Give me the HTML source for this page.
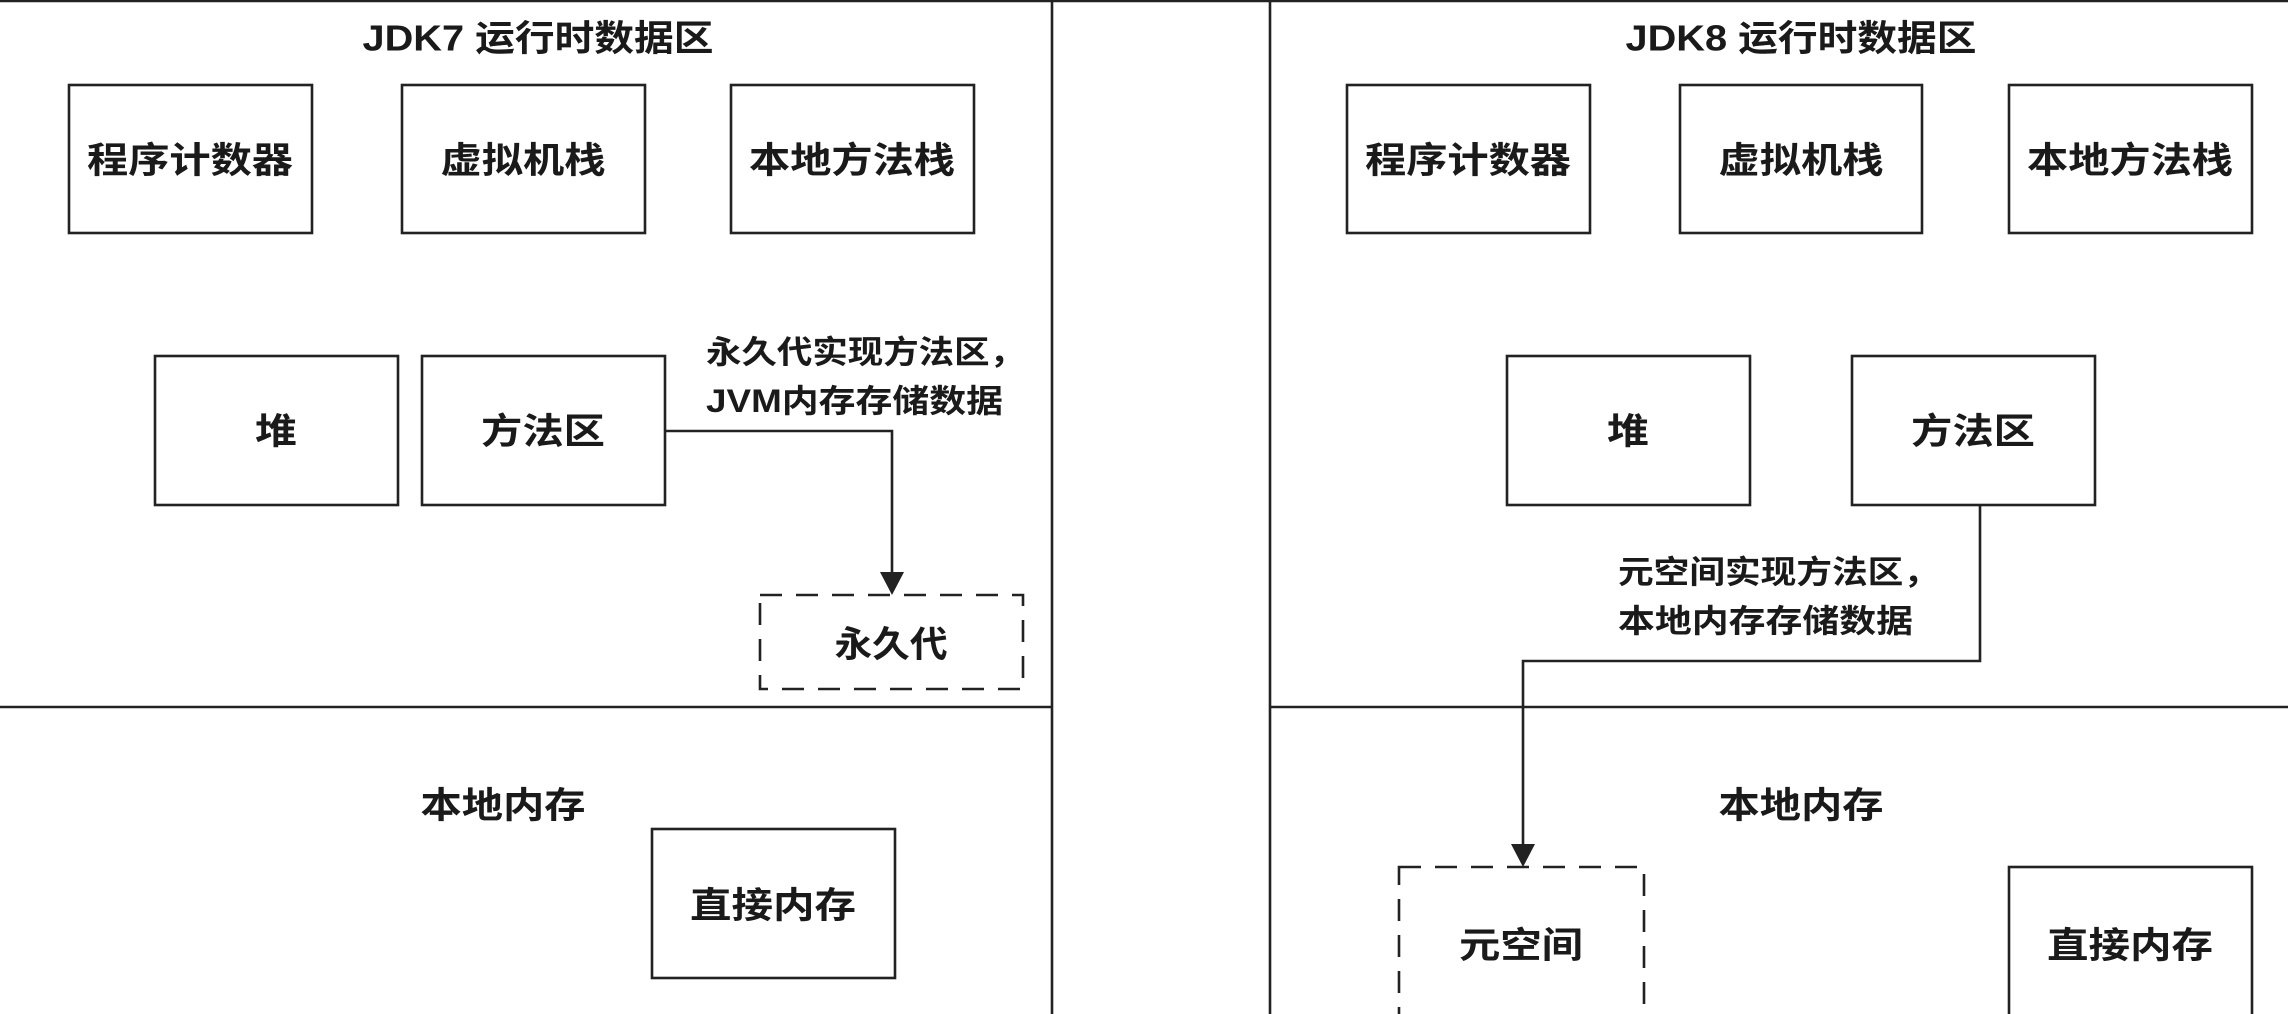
<!DOCTYPE html>
<html><head><meta charset="utf-8"><style>
html,body{margin:0;padding:0;background:#fff;}
svg{display:block;}
text{font-family:"Liberation Sans","Noto Sans CJK SC",sans-serif;fill:#1a1a1a;font-weight:700;}
</style></head><body>
<svg width="2288" height="1014" viewBox="0 0 2288 1014" xmlns="http://www.w3.org/2000/svg">
<g stroke="#222" stroke-width="2.6" fill="none">
<line x1="0" y1="1" x2="2288" y2="1"/>
<line x1="1052" y1="0" x2="1052" y2="1014"/>
<line x1="1270" y1="0" x2="1270" y2="1014"/>
<line x1="0" y1="707" x2="1052" y2="707"/>
<line x1="1270" y1="707" x2="2288" y2="707"/>
<rect x="69" y="85" width="243" height="148"/>
<rect x="402" y="85" width="243" height="148"/>
<rect x="731" y="85" width="243" height="148"/>
<rect x="155" y="356" width="243" height="149"/>
<rect x="422" y="356" width="243" height="149"/>
<rect x="760" y="595" width="263" height="94" stroke-dasharray="22,14"/>
<rect x="652" y="829" width="243" height="149"/>
<polyline points="665,431 892,431 892,580"/>
<rect x="1347" y="85" width="243" height="148"/>
<rect x="1680" y="85" width="242" height="148"/>
<rect x="2009" y="85" width="243" height="148"/>
<rect x="1507" y="356" width="243" height="149"/>
<rect x="1852" y="356" width="243" height="149"/>
<polyline points="1980,505 1980,661 1523,661 1523,852"/>
<rect x="1399" y="867" width="245" height="160" stroke-dasharray="22,14"/>
<rect x="2009" y="867" width="243" height="160"/>
</g>
<polygon points="880,572 904,572 892,595" fill="#222"/>
<polygon points="1511,844 1535,844 1523,867" fill="#222"/>
<g font-size="36" dominant-baseline="central" text-anchor="middle">
<text x="538" y="38" textLength="351" lengthAdjust="spacingAndGlyphs">JDK7 运行时数据区</text>
<text x="190" y="160" textLength="206" lengthAdjust="spacingAndGlyphs">程序计数器</text>
<text x="523" y="160" textLength="165" lengthAdjust="spacingAndGlyphs">虚拟机栈</text>
<text x="852" y="160" textLength="206" lengthAdjust="spacingAndGlyphs">本地方法栈</text>
<text x="276" y="431" textLength="42" lengthAdjust="spacingAndGlyphs">堆</text>
<text x="543" y="431" textLength="124" lengthAdjust="spacingAndGlyphs">方法区</text>
<text x="891" y="644" textLength="113" lengthAdjust="spacingAndGlyphs">永久代</text>
<text x="503" y="805" textLength="165" lengthAdjust="spacingAndGlyphs">本地内存</text>
<text x="773" y="905" textLength="166" lengthAdjust="spacingAndGlyphs">直接内存</text>
<text x="1801" y="38" textLength="351" lengthAdjust="spacingAndGlyphs">JDK8 运行时数据区</text>
<text x="1468" y="160" textLength="206" lengthAdjust="spacingAndGlyphs">程序计数器</text>
<text x="1801" y="160" textLength="165" lengthAdjust="spacingAndGlyphs">虚拟机栈</text>
<text x="2130" y="160" textLength="206" lengthAdjust="spacingAndGlyphs">本地方法栈</text>
<text x="1628" y="431" textLength="42" lengthAdjust="spacingAndGlyphs">堆</text>
<text x="1973" y="431" textLength="124" lengthAdjust="spacingAndGlyphs">方法区</text>
<text x="1801" y="805" textLength="165" lengthAdjust="spacingAndGlyphs">本地内存</text>
<text x="1521" y="945" textLength="124" lengthAdjust="spacingAndGlyphs">元空间</text>
<text x="2130" y="945" textLength="166" lengthAdjust="spacingAndGlyphs">直接内存</text>
</g>
<g font-size="32" dominant-baseline="central">
<text x="706" y="352" textLength="319" lengthAdjust="spacingAndGlyphs">永久代实现方法区，</text>
<text x="706" y="401" textLength="297" lengthAdjust="spacingAndGlyphs">JVM内存存储数据</text>
<text x="1618" y="572" textLength="321" lengthAdjust="spacingAndGlyphs">元空间实现方法区，</text>
<text x="1618" y="621" textLength="295" lengthAdjust="spacingAndGlyphs">本地内存存储数据</text>
</g>
</svg>
</body></html>
